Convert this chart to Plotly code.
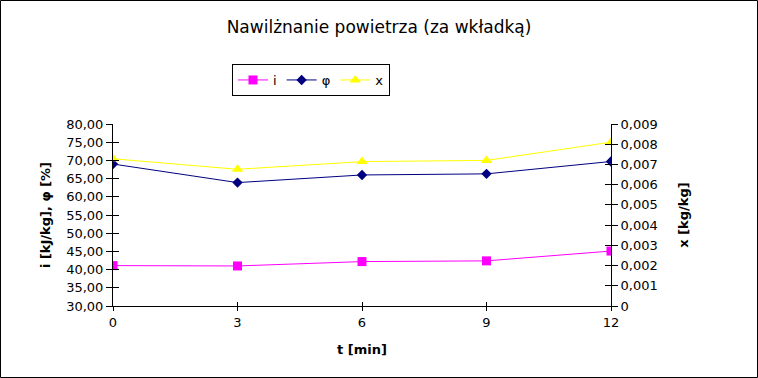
import plotly.graph_objects as go

t_min = [0, 3, 6, 9, 12]
i_vals = [41.1, 41.0, 42.2, 42.4, 45.1]
phi_vals = [69.0, 63.9, 66.0, 66.3, 69.7]
x_vals = [0.00728, 0.00676, 0.00714, 0.00720, 0.00810]

FONT = "DejaVu Sans"

fig = go.Figure()
fig.add_trace(go.Scatter(x=t_min, y=i_vals, name="i", mode="lines+markers",
                         line=dict(color="#FF00FF", width=1),
                         marker=dict(symbol="square", size=9, color="#FF00FF")))
fig.add_trace(go.Scatter(x=t_min, y=phi_vals, name="φ", mode="lines+markers",
                         line=dict(color="#000080", width=1),
                         marker=dict(symbol="diamond", size=8, color="#000080")))
fig.add_trace(go.Scatter(x=t_min, y=x_vals, name="x", mode="lines+markers", yaxis="y2",
                         line=dict(color="#FFFF00", width=1),
                         marker=dict(symbol="triangle-up", size=10, color="#FFFF00")))

tickfont = dict(family=FONT, size=13, color="black")
fig.update_layout(
    width=758, height=378,
    margin=dict(l=113, r=147, t=124, b=72),
    paper_bgcolor="white", plot_bgcolor="white",
    separators=",.",
    font=dict(family=FONT, color="black"),
    title=dict(text="Nawilżnanie powietrza (za wkładką)", x=0.5, xanchor="center",
               y=1 - 27 / 378, yanchor="middle", font=dict(family=FONT, size=17, color="black")),
    showlegend=True,
    legend=dict(orientation="h", x=(232 - 113) / 498, y=(306 - 64) / 182,
                xanchor="left", yanchor="top", bordercolor="black", borderwidth=1,
                font=dict(family=FONT, size=13, color="black"), bgcolor="white",
                itemwidth=30, tracegroupgap=0),
    xaxis=dict(range=[0, 12], tickvals=t_min, ticktext=[str(v) for v in t_min],
               showgrid=False, zeroline=False, showline=True, linecolor="black", linewidth=1,
               ticks="outside", ticklen=4, tickcolor="black", tickfont=tickfont,
               title=dict(text="<b>t [min]</b>", font=dict(family=FONT, size=13), standoff=16)),
    xaxis2=dict(range=[0, 12], tickvals=t_min, overlaying="x", anchor="y",
                showgrid=False, zeroline=False, showline=False, showticklabels=False,
                ticks="inside", ticklen=4, tickcolor="black"),
    yaxis=dict(range=[30, 80], dtick=5, tick0=30, tickformat=".2f",
               showgrid=False, zeroline=False, showline=True, linecolor="black", linewidth=1,
               ticks="outside", ticklen=6, tickcolor="black", tickfont=tickfont,
               title=dict(text="<b>i [kJ/kg], φ [%]</b>", font=dict(family=FONT, size=13), standoff=12)),
    yaxis3=dict(range=[30, 80], dtick=5, tick0=30, overlaying="y", side="left", anchor="x",
                showgrid=False, zeroline=False, showline=False, showticklabels=False,
                ticks="inside", ticklen=6, tickcolor="black"),
    yaxis2=dict(range=[0, 0.009], dtick=0.001, tick0=0, overlaying="y", side="right", anchor="x",
                showgrid=False, zeroline=False, showline=True, linecolor="black", linewidth=1,
                ticks="outside", ticklen=6, tickcolor="black", tickfont=tickfont,
                title=dict(text="<b>x [kg/kg]</b>", font=dict(family=FONT, size=13), standoff=22)),
    yaxis4=dict(range=[0, 0.009], dtick=0.001, tick0=0, overlaying="y", side="right", anchor="x",
                showgrid=False, zeroline=False, showline=False, showticklabels=False,
                ticks="inside", ticklen=6, tickcolor="black"),
)

# invisible helper traces so the inside-tick overlay axes are drawn
fig.add_trace(go.Scatter(x=[None], y=[None], xaxis="x2", yaxis="y3", showlegend=False, hoverinfo="skip"))
fig.add_trace(go.Scatter(x=[None], y=[None], xaxis="x", yaxis="y4", showlegend=False, hoverinfo="skip"))

# outer frame
fig.add_shape(type="rect", xref="paper", yref="paper",
              x0=-112.5 / 498, x1=(757.5 - 113) / 498, y0=-71.5 / 182, y1=(305.5) / 182,
              line=dict(color="black", width=1), fillcolor="rgba(0,0,0,0)", layer="below")

fig.write_html("out.html", config={"displayModeBar": False},
               post_script="document.body.style.margin='0';document.body.style.padding='0';")
